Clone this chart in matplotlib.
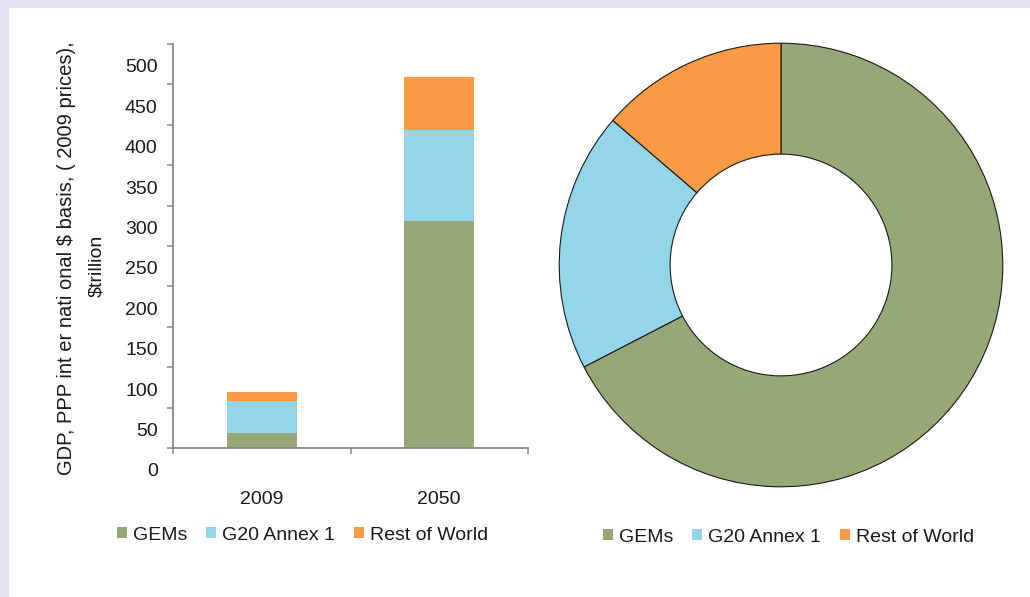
"""GDP at PPP by country group: stacked bars for 2009/2050 and a donut of shares."""

import matplotlib.pyplot as plt
import matplotlib.transforms as mtransforms
from matplotlib.patches import Patch, Rectangle
import numpy as np

plt.rcParams["font.family"] = ["Liberation Sans", "DejaVu Sans"]

# Data
years = ["2009", "2050"]
groups = ["GEMs", "G20 Annex 1", "Rest of World"]
gems = [19, 281]
g20_annex1 = [39, 113]
rest_of_world = [11, 65]
pie_shares = [67.4, 18.9, 13.7]
y_ticks = list(range(0, 501, 50))

colors = ["#97A776", "#93D6E9", "#F99B45"]
axis_grey = "#868686"
text_col = "#1a1a1a"
fs = 14

fig = plt.figure(figsize=(10.30, 5.97), dpi=100)
fig.patch.set_facecolor("white")

# Lavender frame strips at top and left
band = "#E5E3F1"
fig.patches.append(Rectangle((0, 1 - 8 / 597), 1, 8 / 597, transform=fig.transFigure,
                             facecolor=band, edgecolor="none", zorder=0))
fig.patches.append(Rectangle((0, 0), 9 / 1030, 1, transform=fig.transFigure,
                             facecolor=band, edgecolor="none", zorder=0))

# ---- Stacked bar chart ----
ax = fig.add_axes([173 / 1030, 1 - 448 / 597, 355 / 1030, 404 / 597])
x = np.arange(len(years))
width = 0.394
series = [gems, g20_annex1, rest_of_world]
bottom = np.zeros(len(years))
for vals, col, name in zip(series, colors, groups):
    ax.bar(x, vals, width, bottom=bottom, color=col, edgecolor="none", label=name)
    bottom += np.array(vals)

ax.set_xlim(-0.5, 1.5)
ax.set_ylim(0, 500)
for side in ["top", "right"]:
    ax.spines[side].set_visible(False)
for side in ["left", "bottom"]:
    ax.spines[side].set_color(axis_grey)
    ax.spines[side].set_linewidth(1.3)

# y ticks, with labels sitting half an interval below each mark (as in the source)
ax.set_yticks(y_ticks)
ax.set_yticklabels([str(v) for v in y_ticks])
ax.tick_params(axis="y", direction="out", length=4.5, width=1.1, color=axis_grey,
               pad=6.5, labelsize=fs, labelcolor=text_col)
shift = mtransforms.ScaledTranslation(0, -22 / 100, fig.dpi_scale_trans)
for lbl in ax.get_yticklabels():
    lbl.set_transform(lbl.get_transform() + shift)

# x ticks on the category boundaries, labels at category centres
ax.set_xticks([-0.5, 0.5, 1.5])
ax.set_xticklabels(["", "", ""])
ax.tick_params(axis="x", which="major", direction="out", length=4.5, width=1.1,
               color=axis_grey)
ax.set_xticks(x, minor=True)
ax.set_xticklabels(years, minor=True)
ax.tick_params(axis="x", which="minor", length=0, pad=31, labelsize=fs,
               labelcolor=text_col)

fig.text(67 / 1030, 1 - 258 / 597, "GDP, PPP int er nati onal $ basis, ( 2009 prices),",
         rotation=90, ha="center", va="center", fontsize=fs + 0.5, color=text_col)
fig.text(97 / 1030, 1 - 266 / 597, "$trillion", rotation=90, ha="center",
         va="center", fontsize=fs, color=text_col)

# ---- Donut chart ----
r = 224
pax = fig.add_axes([(781 - r) / 1030, 1 - (265 + r) / 597, 2 * r / 1030, 2 * r / 597])
pax.pie(pie_shares, colors=colors, startangle=90, counterclock=False,
        wedgeprops=dict(width=0.5, edgecolor="#1a1a1a", linewidth=0.8))
pax.set_xlim(-1.01, 1.01)
pax.set_ylim(-1.01, 1.01)
pax.set_aspect("equal")

# ---- Legends ----
handles = [Patch(facecolor=c, edgecolor="none") for c in colors]
leg_kw = dict(ncol=3, frameon=False, fontsize=fs, handlelength=0.5, handleheight=0.5,
              handletextpad=0.3, columnspacing=1.0, borderpad=0, borderaxespad=0,
              labelcolor=text_col)
fig.legend(handles, groups, loc="center left",
           bbox_to_anchor=(117 / 1030, 1 - 535 / 597), **leg_kw)
fig.legend(handles, groups, loc="center left",
           bbox_to_anchor=(603 / 1030, 1 - 537 / 597), **leg_kw)

fig.savefig("out.png", dpi=100, facecolor=fig.get_facecolor())
